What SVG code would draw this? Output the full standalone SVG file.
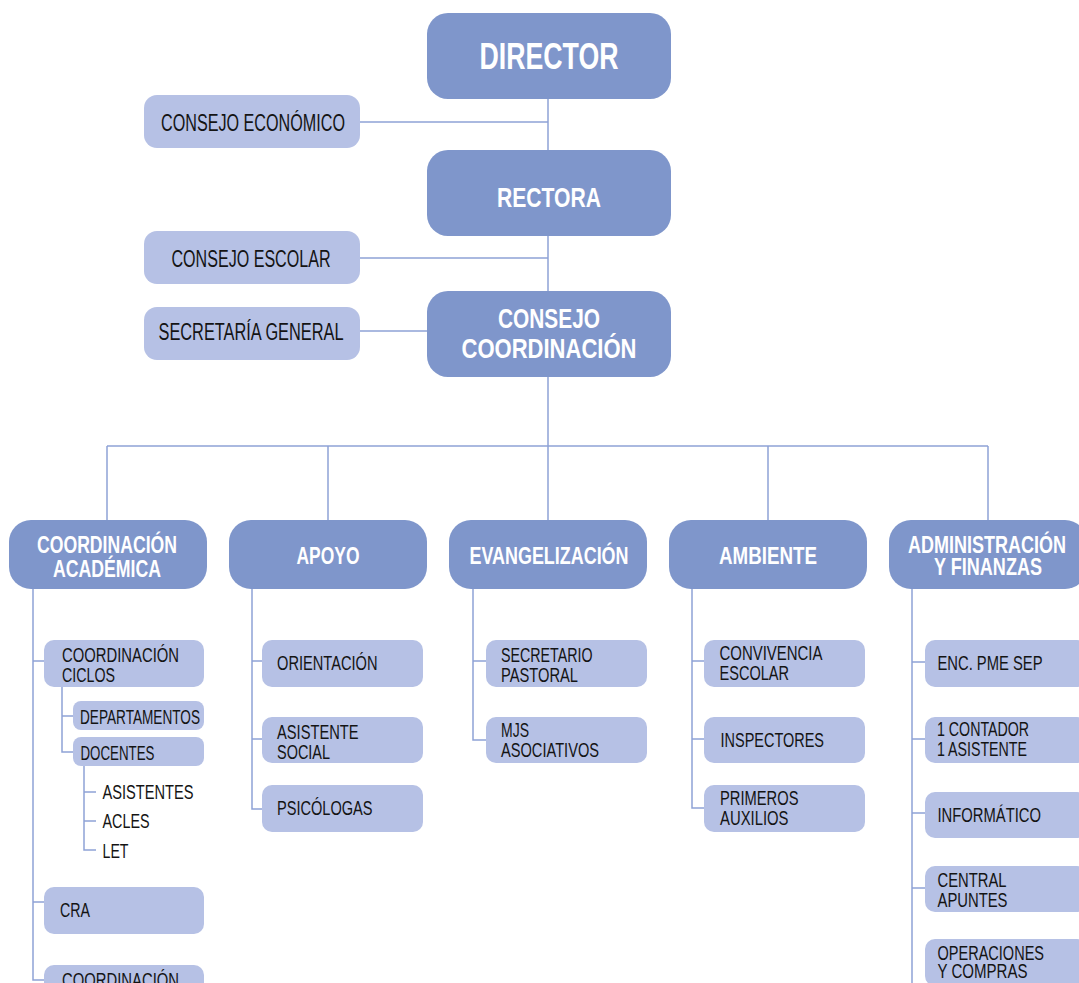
<svg xmlns="http://www.w3.org/2000/svg" width="1079" height="983" viewBox="0 0 1079 983">
<style>
  text { font-family: "Liberation Sans Narrow", "Liberation Sans", Arial, sans-serif; }
  .dark { fill: #7f96cb; }
  .light { fill: #b6c1e5; }
  .wt { fill: #ffffff; font-weight: bold; }
  .bk { fill: #141414; }
  .s36 { font-size: 36px; }
  .s28 { font-size: 28px; }
  .s24 { font-size: 24px; }
  .s23 { font-size: 23px; }
  .s20 { font-size: 20px; }
  .s19 { font-size: 19px; }
  .conn path { fill: none; stroke: #8ea2d6; stroke-width: 1.5; }
</style>
<rect width="1079" height="983" fill="#ffffff"/>

<g class="conn" id="connectors">
  <path d="M548,99 V150"/>
  <path d="M360,122 H548"/>
  <path d="M548,236 V291"/>
  <path d="M360,258 H548"/>
  <path d="M360,331 H427"/>
  <path d="M548,377 V446"/>
  <path d="M107,446 H988"/>
  <path d="M107,446 V520"/>
  <path d="M328,446 V520"/>
  <path d="M548,446 V520"/>
  <path d="M768,446 V520"/>
  <path d="M988,446 V520"/>
  <path d="M33,589 V980 H44"/>
  <path d="M33,661 H44"/>
  <path d="M33,902 H44"/>
  <path d="M62,687 V752 H73"/>
  <path d="M62,716 H73"/>
  <path d="M84,766 V850 H96"/>
  <path d="M84,792 H96"/>
  <path d="M84,821 H96"/>
  <path d="M252,589 V809 H262"/>
  <path d="M252,661 H262"/>
  <path d="M252,739 H262"/>
  <path d="M473,589 V740 H486"/>
  <path d="M473,661 H486"/>
  <path d="M692,589 V808 H704"/>
  <path d="M692,661 H704"/>
  <path d="M692,739 H704"/>
  <path d="M912,589 V983"/>
  <path d="M912,662 H925"/>
  <path d="M912,739 H925"/>
  <path d="M912,813 H925"/>
  <path d="M912,888 H925"/>
</g>

<g id="director">
  <rect class="dark" x="427" y="13" width="244" height="86" rx="21"/>
  <text class="wt s36" x="549" y="69" text-anchor="middle" textLength="139" lengthAdjust="spacingAndGlyphs">DIRECTOR</text>
</g>
<g id="consejo-economico">
  <rect class="light" x="144" y="95" width="216" height="53" rx="13"/>
  <text class="bk s23" x="253" y="131" text-anchor="middle" textLength="184" lengthAdjust="spacingAndGlyphs">CONSEJO ECONÓMICO</text>
</g>
<g id="rectora">
  <rect class="dark" x="427" y="150" width="244" height="86" rx="21"/>
  <text class="wt s28" x="549" y="207" text-anchor="middle" textLength="104" lengthAdjust="spacingAndGlyphs">RECTORA</text>
</g>
<g id="consejo-escolar">
  <rect class="light" x="144" y="231" width="216" height="53" rx="13"/>
  <text class="bk s23" x="251" y="267" text-anchor="middle" textLength="159" lengthAdjust="spacingAndGlyphs">CONSEJO ESCOLAR</text>
</g>
<g id="secretaria-general">
  <rect class="light" x="144" y="307" width="216" height="53" rx="13"/>
  <text class="bk s23" x="251" y="340" text-anchor="middle" textLength="185" lengthAdjust="spacingAndGlyphs">SECRETARÍA GENERAL</text>
</g>
<g id="consejo-coordinacion">
  <rect class="dark" x="427" y="291" width="244" height="86" rx="21"/>
  <text class="wt s28" x="549" y="328" text-anchor="middle" textLength="102" lengthAdjust="spacingAndGlyphs">CONSEJO</text>
  <text class="wt s28" x="549" y="358" text-anchor="middle" textLength="175" lengthAdjust="spacingAndGlyphs">COORDINACIÓN</text>
</g>

<g id="coordinacion-academica">
  <rect class="dark" x="9" y="520" width="198" height="69" rx="22"/>
  <text class="wt s24" x="107" y="553" text-anchor="middle" textLength="140" lengthAdjust="spacingAndGlyphs">COORDINACIÓN</text>
  <text class="wt s24" x="107" y="577" text-anchor="middle" textLength="108" lengthAdjust="spacingAndGlyphs">ACADÉMICA</text>
</g>
<g id="apoyo">
  <rect class="dark" x="229" y="520" width="198" height="69" rx="22"/>
  <text class="wt s24" x="328" y="564" text-anchor="middle" textLength="63" lengthAdjust="spacingAndGlyphs">APOYO</text>
</g>
<g id="evangelizacion">
  <rect class="dark" x="449" y="520" width="198" height="69" rx="22"/>
  <text class="wt s24" x="549" y="564" text-anchor="middle" textLength="159" lengthAdjust="spacingAndGlyphs">EVANGELIZACIÓN</text>
</g>
<g id="ambiente">
  <rect class="dark" x="669" y="520" width="198" height="69" rx="22"/>
  <text class="wt s24" x="768" y="564" text-anchor="middle" textLength="98" lengthAdjust="spacingAndGlyphs">AMBIENTE</text>
</g>
<g id="administracion-finanzas">
  <rect class="dark" x="889" y="520" width="198" height="69" rx="22"/>
  <text class="wt s24" x="987" y="553" text-anchor="middle" textLength="158" lengthAdjust="spacingAndGlyphs">ADMINISTRACIÓN</text>
  <text class="wt s24" x="988" y="575" text-anchor="middle" textLength="108" lengthAdjust="spacingAndGlyphs">Y FINANZAS</text>
</g>

<g id="coordinacion-ciclos">
  <rect class="light" x="44" y="640" width="160" height="47" rx="10"/>
  <text class="bk s20" x="62" y="661.5" textLength="117" lengthAdjust="spacingAndGlyphs">COORDINACIÓN</text>
  <text class="bk s20" x="62" y="681.5" textLength="53" lengthAdjust="spacingAndGlyphs">CICLOS</text>
</g>
<g id="departamentos">
  <rect class="light" x="73" y="701" width="131" height="29" rx="8"/>
  <text class="bk s20" x="80" y="724" textLength="120" lengthAdjust="spacingAndGlyphs">DEPARTAMENTOS</text>
</g>
<g id="docentes">
  <rect class="light" x="73" y="737" width="131" height="29" rx="8"/>
  <text class="bk s20" x="80.5" y="760" textLength="74" lengthAdjust="spacingAndGlyphs">DOCENTES</text>
</g>
<g id="asistentes">
  <text class="bk s20" x="102.5" y="799" textLength="91" lengthAdjust="spacingAndGlyphs">ASISTENTES</text>
</g>
<g id="acles">
  <text class="bk s20" x="102.5" y="828" textLength="47" lengthAdjust="spacingAndGlyphs">ACLES</text>
</g>
<g id="let">
  <text class="bk s20" x="102.5" y="857.5" textLength="26" lengthAdjust="spacingAndGlyphs">LET</text>
</g>
<g id="cra">
  <rect class="light" x="44" y="887" width="160" height="47" rx="10"/>
  <text class="bk s20" x="60" y="917" textLength="30" lengthAdjust="spacingAndGlyphs">CRA</text>
</g>
<g id="coordinacion-bottom">
  <rect class="light" x="44" y="965" width="160" height="47" rx="10"/>
  <text class="bk s20" x="62" y="986.5" textLength="117" lengthAdjust="spacingAndGlyphs">COORDINACIÓN</text>
</g>

<g id="orientacion">
  <rect class="light" x="262" y="640" width="161" height="47" rx="10"/>
  <text class="bk s20" x="277" y="670" textLength="100.5" lengthAdjust="spacingAndGlyphs">ORIENTACIÓN</text>
</g>
<g id="asistente-social">
  <rect class="light" x="262" y="717" width="161" height="46" rx="10"/>
  <text class="bk s20" x="277" y="739" textLength="81.5" lengthAdjust="spacingAndGlyphs">ASISTENTE</text>
  <text class="bk s20" x="277" y="759" textLength="53" lengthAdjust="spacingAndGlyphs">SOCIAL</text>
</g>
<g id="psicologas">
  <rect class="light" x="262" y="785" width="161" height="47" rx="10"/>
  <text class="bk s20" x="277" y="815" textLength="95.5" lengthAdjust="spacingAndGlyphs">PSICÓLOGAS</text>
</g>

<g id="secretario-pastoral">
  <rect class="light" x="486" y="640" width="161" height="47" rx="10"/>
  <text class="bk s20" x="501" y="661.5" textLength="91.5" lengthAdjust="spacingAndGlyphs">SECRETARIO</text>
  <text class="bk s20" x="501" y="681.5" textLength="77" lengthAdjust="spacingAndGlyphs">PASTORAL</text>
</g>
<g id="mjs-asociativos">
  <rect class="light" x="486" y="717" width="161" height="46" rx="10"/>
  <text class="bk s20" x="501" y="736.5" textLength="28" lengthAdjust="spacingAndGlyphs">MJS</text>
  <text class="bk s20" x="501" y="756.5" textLength="98" lengthAdjust="spacingAndGlyphs">ASOCIATIVOS</text>
</g>

<g id="convivencia-escolar">
  <rect class="light" x="704" y="640" width="161" height="47" rx="10"/>
  <text class="bk s20" x="719.5" y="659.5" textLength="103" lengthAdjust="spacingAndGlyphs">CONVIVENCIA</text>
  <text class="bk s20" x="719.5" y="680" textLength="69.5" lengthAdjust="spacingAndGlyphs">ESCOLAR</text>
</g>
<g id="inspectores">
  <rect class="light" x="704" y="717" width="161" height="46" rx="10"/>
  <text class="bk s20" x="720.5" y="747" textLength="103.5" lengthAdjust="spacingAndGlyphs">INSPECTORES</text>
</g>
<g id="primeros-auxilios">
  <rect class="light" x="704" y="785" width="161" height="47" rx="10"/>
  <text class="bk s20" x="720" y="805" textLength="78.5" lengthAdjust="spacingAndGlyphs">PRIMEROS</text>
  <text class="bk s20" x="720" y="825" textLength="68.5" lengthAdjust="spacingAndGlyphs">AUXILIOS</text>
</g>

<g id="enc-pme-sep">
  <rect class="light" x="925" y="640" width="162" height="47" rx="10"/>
  <text class="bk s20" x="937.5" y="670" textLength="105" lengthAdjust="spacingAndGlyphs">ENC. PME SEP</text>
</g>
<g id="contador-asistente">
  <rect class="light" x="925" y="717" width="162" height="46" rx="10"/>
  <text class="bk s20" x="937" y="736" textLength="92" lengthAdjust="spacingAndGlyphs">1 CONTADOR</text>
  <text class="bk s20" x="937" y="756" textLength="90" lengthAdjust="spacingAndGlyphs">1 ASISTENTE</text>
</g>
<g id="informatico">
  <rect class="light" x="925" y="792" width="162" height="46" rx="10"/>
  <text class="bk s20" x="937.5" y="822" textLength="103.5" lengthAdjust="spacingAndGlyphs">INFORMÁTICO</text>
</g>
<g id="central-apuntes">
  <rect class="light" x="925" y="866" width="162" height="46" rx="10"/>
  <text class="bk s20" x="937.5" y="886.5" textLength="69" lengthAdjust="spacingAndGlyphs">CENTRAL</text>
  <text class="bk s20" x="937.5" y="906.5" textLength="70" lengthAdjust="spacingAndGlyphs">APUNTES</text>
</g>
<g id="operaciones-compras">
  <rect class="light" x="925" y="939" width="162" height="47" rx="10"/>
  <text class="bk s20" x="937.5" y="960" textLength="106.5" lengthAdjust="spacingAndGlyphs">OPERACIONES</text>
  <text class="bk s20" x="937.5" y="978" textLength="90" lengthAdjust="spacingAndGlyphs">Y COMPRAS</text>
</g>
</svg>
